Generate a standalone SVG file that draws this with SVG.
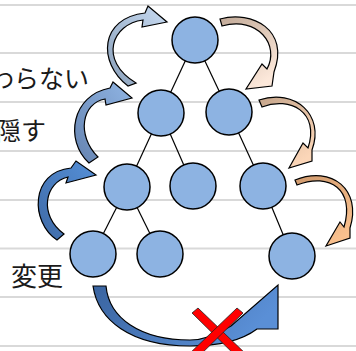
<svg xmlns="http://www.w3.org/2000/svg" width="356" height="351" viewBox="0 0 356 351">
<style>
.grid{stroke:#d9d9d9;stroke-width:2}
.edge{stroke:#000;stroke-width:1.2}
.node{fill:#8db3e2;stroke:#000;stroke-width:1.5}
.arr{stroke:#000;stroke-width:1.2;stroke-linejoin:miter}
.lbl{font-family:"Noto Sans CJK JP","Noto Sans CJK SC",sans-serif;fill:#1a1a1a}
.x{fill:#ff0000;stroke:#222;stroke-width:0.8}
</style>
<defs>
<linearGradient id="g1" x1="0" y1="1" x2="1" y2="0"><stop offset="0" stop-color="#8aa0ba"/><stop offset="1" stop-color="#c8dbf2"/></linearGradient>
<linearGradient id="g2" x1="0" y1="1" x2="1" y2="0"><stop offset="0" stop-color="#6583b0"/><stop offset="1" stop-color="#90b5e4"/></linearGradient>
<linearGradient id="g3" x1="0" y1="1" x2="1" y2="0"><stop offset="0" stop-color="#3f6aa6"/><stop offset="1" stop-color="#5590d8"/></linearGradient>
<linearGradient id="g4" x1="0" y1="0" x2="1" y2="0.3"><stop offset="0" stop-color="#3a64a0"/><stop offset="1" stop-color="#5a8fd6"/></linearGradient>
<linearGradient id="g5" x1="0" y1="0" x2="0.6" y2="1"><stop offset="0" stop-color="#c2aa98"/><stop offset="1" stop-color="#fce8da"/></linearGradient>
<linearGradient id="g6" x1="0" y1="0" x2="0.6" y2="1"><stop offset="0" stop-color="#c6a68c"/><stop offset="1" stop-color="#fbd6b8"/></linearGradient>
<linearGradient id="g7" x1="0" y1="0" x2="0.6" y2="1"><stop offset="0" stop-color="#d09a6e"/><stop offset="1" stop-color="#f8c08e"/></linearGradient>
</defs>
<g id="gridlines">
<line class="grid" x1="0" y1="5" x2="356" y2="5"/>
<line class="grid" x1="0" y1="53" x2="356" y2="53"/>
<line class="grid" x1="0" y1="102" x2="356" y2="102"/>
<line class="grid" x1="0" y1="151" x2="356" y2="151"/>
<line class="grid" x1="0" y1="200" x2="356" y2="200"/>
<line class="grid" x1="0" y1="248.5" x2="356" y2="248.5"/>
<line class="grid" x1="0" y1="297" x2="356" y2="297"/>
<line class="grid" x1="0" y1="346" x2="356" y2="346"/>
</g>
<g id="connectors">
<line class="edge" x1="195" y1="40" x2="161" y2="113"/>
<line class="edge" x1="195" y1="40" x2="229" y2="112"/>
<line class="edge" x1="161" y1="113" x2="127" y2="187"/>
<line class="edge" x1="161" y1="113" x2="193" y2="186"/>
<line class="edge" x1="229" y1="112" x2="263" y2="186"/>
<line class="edge" x1="127" y1="187" x2="93" y2="254"/>
<line class="edge" x1="127" y1="187" x2="160" y2="254"/>
<line class="edge" x1="263" y1="186" x2="292" y2="256"/>
</g>
<g id="n1"><circle class="node" cx="195" cy="40" r="23"/></g>
<g id="n2"><circle class="node" cx="161" cy="113" r="23"/></g>
<g id="n3"><circle class="node" cx="229" cy="112" r="23"/></g>
<g id="n4"><circle class="node" cx="127" cy="187" r="23"/></g>
<g id="n5"><circle class="node" cx="193" cy="186" r="23"/></g>
<g id="n6"><circle class="node" cx="263" cy="186" r="23"/></g>
<g id="n7"><circle class="node" cx="93" cy="254" r="23"/></g>
<g id="n8"><circle class="node" cx="160" cy="254" r="23"/></g>
<g id="n9"><circle class="node" cx="292" cy="256" r="23"/></g>
<g id="arrows">
<path class="arr" fill="url(#g1)" d="M128 86 C97 62 100 18 145 13 L148 6 L167 22 L142 27 L143 20 C112 24 98 60 136 83 Z"/>
<path class="arr" fill="url(#g2)" d="M89 163 C64 140 72 95 110 88 L113 82 L132 98 L106 105 L105 99 C82 103 76 135 98 157 Z"/>
<path class="arr" fill="url(#g3)" d="M57 240 C30 222 30 172 71 168 L76 161 L96 175 L66 183 L68 177 C45 182 38 215 64 234 Z"/>
<path class="arr" fill="url(#g4)" d="M93 286 L106 286 C109 318 140 340 190 340 C205 340 220 333 231 326 L278 285 L278 329 L257 329 C245 338 225 346 190 346 C130 346 98 320 93 286 Z"/>
<path class="arr" fill="url(#g5)" d="M220 19 C252 10 290 30 274 72 L272 86 L246 89 L262 64 L267 69 C280 45 258 16 222 26 Z"/>
<path class="arr" fill="url(#g6)" d="M259 100 C295 88 325 115 312 150 L312 161 L289 168 L303 143 L308 148 C320 112 290 96 262 107 Z"/>
<path class="arr" fill="url(#g7)" d="M295 180 C332 165 362 190 350 228 L350 238 L326 246 L340 222 L344 227 C355 190 330 172 297 185 Z"/>
</g>
<g id="cross">
<polygon class="x" points="192,313 198,308 248,356 242,362"/>
<polygon class="x" points="237,308 243,313 193,362 187,356"/>
</g>
<g id="labels">
<text class="lbl" x="-11" y="88" font-size="25">わらない</text>
<text class="lbl" x="-4" y="140" font-size="25">隠す</text>
<text class="lbl" x="11" y="286" font-size="26">変更</text>
</g>
</svg>
